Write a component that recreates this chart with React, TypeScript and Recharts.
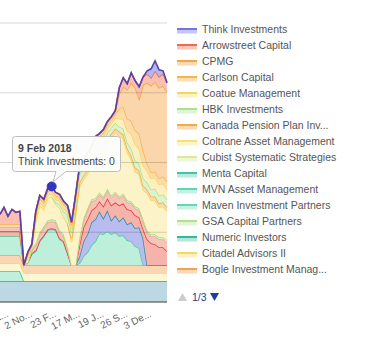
import React from 'react';
import { AreaChart, Area, XAxis, YAxis, Tooltip, ReferenceLine } from 'recharts';

const _ = null;

const DATES = [
  '13 Jul 2017', '27 Jul 2017', '10 Aug 2017', '24 Aug 2017', '7 Sep 2017', '21 Sep 2017', '5 Oct 2017', '19 Oct 2017', '2 Nov 2017', '22 Nov 2017',
  '12 Dec 2017', '3 Jan 2018', '23 Jan 2018', '9 Feb 2018', '23 Feb 2018', '9 Mar 2018', '23 Mar 2018', '6 Apr 2018', '20 Apr 2018', '3 May 2018',
  '17 May 2018', '28 May 2018', '7 Jun 2018', '18 Jun 2018', '28 Jun 2018', '9 Jul 2018', '19 Jul 2018', '31 Jul 2018', '10 Aug 2018', '22 Aug 2018',
  '3 Sep 2018', '14 Sep 2018', '26 Sep 2018', '8 Oct 2018', '19 Oct 2018', '30 Oct 2018', '9 Nov 2018', '21 Nov 2018', '3 Dec 2018', '14 Dec 2018',
  '26 Dec 2018', '7 Jan 2019', '18 Jan 2019',
];

const TICK_DATES = ['10 Aug 2017', '2 Nov 2017', '23 Feb 2018', '17 May 2018', '19 Jul 2018', '26 Sep 2018', '3 Dec 2018'];

// values, bottom of the stack first
const OTHER_BLUE = [
  21, 21, 21, 21, 21, 21, 21, 21, 21, 21,
  21, 21, 21, 21, 21, 21, 21, 21, 21, 21,
  21, 21, 21, 21, 21, 21, 21, 21, 21, 21,
  21, 21, 21, 21, 21, 21, 21, 21, 21, 21,
  21, 21, 21,
];
const OTHER_MINT = [
  10, 10, 10, 10, 10, 10, 0, _, _, _,
  _, _, _, _, _, _, _, _, _, _,
  _, _, _, _, _, _, _, _, _, _,
  _, _, _, _, _, _, _, _, _, _,
  _, _, _,
];
const OTHER_YELLOW = [
  8, 8, 8, 8, 8, 8, 8, 8, 8, 8,
  8, 8, 8, 8, 8, 8, 8, 8, 8, 8,
  8, 8, 8, 8, 8, 8, 8, 8, 8, 8,
  8, 8, 8, 8, 8, 8, 8, 8, 8, 8,
  8, 8, 8,
];
const BOGLE = [
  8, 8, 8, 8, 8, 8, 8, 8, 8, 8,
  8, 8, 8, 8, 8, 8, 8, 8, 8, 8,
  8, 8, 8, 8, 8, 8, 8, 8, 8, 8,
  8, 8, 8, 8, 8, 8, 8, 8, 8, 8,
  8, 8, 8,
];
const MAVEN = [
  19, 19, 19, 19, 19, 19, 0, 3, 11, 14,
  24, 29, 35, 36, 35, 26, 23, 12, 0, 0,
  2, 9, 13, 20, 24, 32, 31, 34, 31, 33,
  29, 30, 25, 24, 19, 17, 0, 0, 0, 0,
  0, 0, 0,
];
const OTHER_LAV = [
  _, _, _, _, _, _, _, _, _, _,
  _, _, _, _, _, _, _, _, _, 0,
  7, 15, 18, 23, 22, 22, 16, 21, 14, 17,
  15, 18, 16, 19, 18, 21, 27, 0, 0, 0,
  0, 0, 0,
];
const OTHER_RED = [
  5, 5, 5, 5, 5, 5, 0, 0, 1, 1,
  1, 1, 1, 1, 1, 1, 1, 0, 0, 0,
  11, 14, 15, 12, 12, 10, 12, 12, 15, 13,
  16, 14, 15, 12, 13, 10, 9, 26, 22, 21,
  18, 18, 14,
];
const OTHER_SALMON = [
  4, 4, 4, 4, 4, 4, 0, 0, 3, 5,
  6, 7, 7, 7, 7, 6, 5, 4, 0, 0,
  6, 7, 9, 9, 7, 7, 8, 8, 8, 9,
  7, 8, 7, 7, 7, 7, 8, 7, 7, 8,
  8, 8, 9,
];
const GSA = [
  _, _, _, _, _, _, 0, 0, 2, 2,
  2, 2, 2, 2, 2, 2, 2, 2, 0, 0,
  2, 2, 2, 2, 2, 2, 2, 2, 2, 2,
  2, 2, 2, 2, 2, 2, 2, 2, 2, 2,
  2, 2, 2,
];
const CITADEL = [
  _, _, _, _, _, _, 0, 4, 1, 22,
  27, 17, 22, 23, 16, 22, 17, 24, 23, 50,
  51, 39, 35, 33, 40, 37, 45, 46, 58, 59,
  61, 55, 48, 42, 35, 34, 30, 37, 34, 34,
  30, 31, 29,
];
const CANADA = [
  _, _, _, _, _, _, _, _, _, _,
  _, _, _, _, _, _, _, 0, 4, 4,
  4, 4, 4, 4, 4, 4, 4, 4, 4, 4,
  4, 4, 4, 4, 4, 4, 4, 4, 4, 4,
  4, 4, 4,
];
const HBK = [
  _, _, _, _, _, _, _, _, _, _,
  _, _, _, 0, 2, 4, 6, 8, 6, 8,
  8, 8, 7, 7, 7, 7, 7, 6, 6, 6,
  5, 6, 6, 7, 7, 7, 7, 7, 7, 8,
  8, 8, 8,
];
const COATUE = [
  _, _, _, _, _, _, 0, 2, 1, 3,
  3, 3, 3, 3, 3, 3, 3, 3, 3, 3,
  3, 3, 3, 3, 4, 4, 4, 4, 4, 5,
  8, 10, 12, 15, 16, 15, 13, 12, 11, 11,
  11, 11, 10,
];
const CARLSON = [
  3, 3, 3, 3, 3, 3, 0, 2, 1, 4,
  4, 4, 4, 4, 4, 4, 4, 4, 4, 3,
  3, 3, 3, 3, 4, 4, 4, 4, 4, 4,
  10, 12, 12, 13, 14, 15, 15, 7, 6, 6,
  6, 7, 8,
];
const CPMG = [
  _, _, _, _, _, _, 0, 2, 1, 3,
  3, 3, 3, 3, 3, 3, 3, 3, 3, 2,
  2, 2, 3, 3, 3, 3, 3, 3, 3, 3,
  15, 20, 29, 38, 43, 35, 66, 81, 87, 90,
  91, 91, 90,
];
const ARROWSTREET = [
  10, 17, 8, 15, 12, 13, 0, 0, 0, 0,
  0, 0, 0, 0, 0, 0, 0, 0, 0, 0,
  0, 0, 0, 0, 0, 0, 0, 0, 0, 0,
  6, 9, 6, 10, 7, 12, 8, 9, 8, 11,
  11, 12, 9,
];
const THINK = [
  0, 0, 0, 0, 0, 0, 0, 0, 0, 0,
  0, 0, 0, 0, 0, 0, 0, 0, 0, 0,
  0, 0, 0, 0, 0, 0, 0, 0, 0, 0,
  0, 0, 0, 0, 0, 0, 0, 3, 9, 10,
  7, 3, 0,
];

type Series = { key: string; name: string; values: (number | null)[]; stroke: string; fill: string };

const SERIES: Series[] = [
  { key: 'otherBlue', name: 'Holder 48', values: OTHER_BLUE, stroke: '#2ea6a3', fill: '#bcd9e3' },
  { key: 'otherMint', name: 'Holder 47', values: OTHER_MINT, stroke: '#3fc4a2', fill: '#bff0de' },
  { key: 'otherYellow', name: 'Holder 46', values: OTHER_YELLOW, stroke: '#f4da5c', fill: '#fdf6d2' },
  { key: 'bogle', name: 'Bogle Investment Management', values: BOGLE, stroke: '#f5a24e', fill: '#fcd6b2' },
  { key: 'maven', name: 'Maven Investment Partners', values: MAVEN, stroke: '#4ccba5', fill: '#bdefdb' },
  { key: 'otherLav', name: 'Holder 20', values: OTHER_LAV, stroke: '#2b8ea6', fill: '#b8bcee' },
  { key: 'otherRed', name: 'Holder 19', values: OTHER_RED, stroke: '#e5403b', fill: '#f6b3ac' },
  { key: 'otherSalmon', name: 'Holder 18', values: OTHER_SALMON, stroke: '#f2a597', fill: '#f8c4ba' },
  { key: 'gsa', name: 'GSA Capital Partners', values: GSA, stroke: '#a3dc7c', fill: '#d9f2c9' },
  { key: 'citadel', name: 'Citadel Advisors II', values: CITADEL, stroke: '#f6d95f', fill: '#fdf3c8' },
  { key: 'canada', name: 'Canada Pension Plan Investment Board', values: CANADA, stroke: '#f6aa45', fill: '#fcdab0' },
  { key: 'hbk', name: 'HBK Investments', values: HBK, stroke: '#a9e28c', fill: '#dbf4cf' },
  { key: 'coatue', name: 'Coatue Management', values: COATUE, stroke: '#f6d65c', fill: '#fdefc0' },
  { key: 'carlson', name: 'Carlson Capital', values: CARLSON, stroke: '#f8b548', fill: '#fddcab' },
  { key: 'cpmg', name: 'CPMG', values: CPMG, stroke: '#f5a544', fill: '#fcd6ab' },
  { key: 'arrowstreet', name: 'Arrowstreet Capital', values: ARROWSTREET, stroke: '#f06a52', fill: '#f9bfb1' },
  { key: 'think', name: 'Think Investments', values: THINK, stroke: '#5841ad', fill: '#b4b7ef' },
];

const LEGEND_LABELS = [
  'Think Investments', 'Arrowstreet Capital', 'CPMG', 'Carlson Capital', 'Coatue Management', 'HBK Investments',
  'Canada Pension Plan Inv...', 'Coltrane Asset Management', 'Cubist Systematic Strategies', 'Menta Capital',
  'MVN Asset Management', 'Maven Investment Partners', 'GSA Capital Partners', 'Numeric Investors',
  'Citadel Advisors II', 'Bogle Investment Manag...',
];
const LEGEND_STROKES = [
  '#7078dc', '#f06a52', '#f5a544', '#f8b548', '#f6d65c', '#a9e28c', '#f6aa45', '#f8e071',
  '#d8ea96', '#45c3a2', '#5ed6b2', '#63d6b4', '#b3df8e', '#3ab6a0', '#f6d95f', '#f5a24e',
];
const LEGEND_FILLS = [
  '#c3c6f2', '#f9c6b8', '#fcd9b2', '#fde0b5', '#fdf1c6', '#dff5d5', '#fcdab0', '#fdf4c8',
  '#eff7d4', '#bbebdd', '#c4f1e3', '#c8f2e5', '#e3f5d3', '#b4e6da', '#fdf1c4', '#fcd9b4',
];

const DATA = DATES.map((date, i) => {
  const row: Record<string, string | number | null> = { date };
  SERIES.forEach((s) => {
    row[s.key] = s.values[i];
  });
  return row;
});

const FONT = '"Liberation Sans", Arial, Helvetica, sans-serif';

const DateTick = (props: any) => {
  const { x, y, payload } = props;
  const text = String(payload.value).slice(0, 4) + '...';
  const tx = x + 1;
  const ty = y + 6;
  return (
    <text
      x={tx}
      y={ty}
      transform={`rotate(-27 ${tx} ${ty})`}
      textAnchor="end"
      fontSize={10}
      fontFamily={FONT}
      fill="#666"
    >
      {text}
    </text>
  );
};

const TooltipBox = (props: any) => {
  const { active, payload, label } = props;
  if (!active || !payload || !payload.length) return null;
  const item = payload.find((p: any) => p.name === 'Think Investments');
  const value = item ? item.value : 0;
  return (
    <svg width={114} height={52} style={{ display: 'block', overflow: 'visible' }}>
      <path
        d="M 3.5 0.5 H 105.5 Q 108.5 0.5 108.5 3.5 V 32.5 Q 108.5 35.5 105.5 35.5 H 54 L 41 46 L 44 35.5 H 3.5 Q 0.5 35.5 0.5 32.5 V 3.5 Q 0.5 0.5 3.5 0.5 Z"
        fill="rgba(252,252,252,0.96)"
        stroke="#bdbdbd"
        strokeWidth={1}
      />
      <text x={6} y={16} fontSize={10.5} fontWeight="bold" fontFamily={FONT} fill="#444">
        {label}
      </text>
      <text x={6} y={29} fontSize={10.5} fontFamily={FONT} fill="#444">
        {`Think Investments: ${value}`}
      </text>
    </svg>
  );
};

export default function App() {
  return (
    <div style={{ position: 'absolute', left: 0, top: 0, width: 379, height: 355, fontFamily: FONT, background: '#fff' }}>
      <AreaChart width={379} height={355} data={DATA} margin={{ top: 23, right: 212, bottom: 23, left: 0 }}>
        <XAxis
          dataKey="date"
          ticks={TICK_DATES}
          interval={0}
          tickLine={false}
          axisLine={{ stroke: '#3c3c3c', strokeWidth: 1 }}
          height={30}
          tick={<DateTick />}
        />
        <YAxis hide domain={[0, 280]} />
        {SERIES.map((s) => (
          <Area
            key={s.key}
            type="linear"
            dataKey={s.key}
            name={s.name}
            stackId="holders"
            stroke={s.stroke}
            strokeWidth={s.key === 'think' ? 1.6 : 1.5}
            fill={s.fill}
            fillOpacity={1}
            dot={false}
            activeDot={s.key === 'think' ? { r: 4.5, fill: '#3434c4', stroke: '#3434c4', strokeWidth: 1 } : false}
            isAnimationActive={false}
          />
        ))}
        <ReferenceLine y={70} stroke="#000" strokeOpacity={0.16} />
        <ReferenceLine y={140} stroke="#000" strokeOpacity={0.16} />
        <ReferenceLine y={210} stroke="#000" strokeOpacity={0.16} />
        <ReferenceLine y={280} stroke="#000" strokeOpacity={0.16} />
        <Tooltip
          defaultIndex={13}
          position={{ x: 12, y: 136 }}
          cursor={false}
          isAnimationActive={false}
          content={<TooltipBox />}
        />
      </AreaChart>
      {LEGEND_LABELS.map((label, i) => (
        <div
          key={label}
          style={{
            position: 'absolute',
            left: 176,
            top: 20.5 + 16 * i,
            height: 16,
            display: 'flex',
            alignItems: 'center',
            whiteSpace: 'nowrap',
          }}
        >
          <svg width={22} height={16} style={{ display: 'block' }}>
            <rect x={1} y={8.5} width={20} height={4} fill={LEGEND_FILLS[i]} />
            <line x1={1} x2={21} y1={8} y2={8} stroke={LEGEND_STROKES[i]} strokeWidth={2} />
          </svg>
          <span style={{ marginLeft: 4, fontSize: 10.5, color: '#555', lineHeight: '16px' }}>{label}</span>
        </div>
      ))}
      <svg width={60} height={14} style={{ position: 'absolute', left: 176, top: 290 }}>
        <path d="M 2 11 L 11 11 L 6.5 3 Z" fill="#cccccc" />
        <text x={16} y={11} fontSize={10.5} fontFamily={FONT} fill="#2b3a8c">
          1/3
        </text>
        <path d="M 34 3 L 43 3 L 38.5 11 Z" fill="#1f3aa8" />
      </svg>
    </div>
  );
}
